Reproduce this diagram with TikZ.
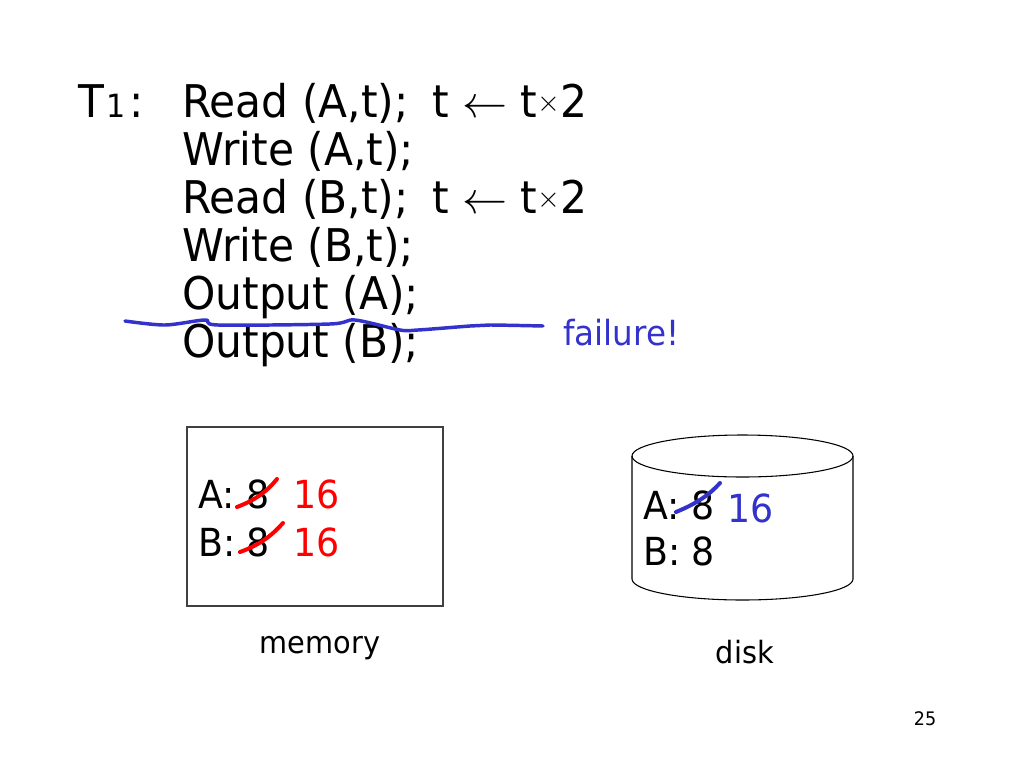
\RequirePackage{fix-cm}
\documentclass[tikz,border=0pt]{standalone}
\usepackage{fontspec}
\setmainfont{DejaVu Sans}[FakeStretch=0.94]
\usetikzlibrary{calc}
\definecolor{penblue}{RGB}{51,51,204}
\definecolor{penred}{RGB}{255,0,0}
\def\fsz#1{\fontsize{#1}{#1}\selectfont}
\def\smalltimes{\raisebox{4pt}{\fsz{22}$\times$}}
\tikzset{
	codeline/.style={anchor=base west, inner sep=0pt, font=\fsz{33.8}},
	cell/.style={anchor=base west, inner sep=0pt, font=\fsz{29}},
	caption/.style={anchor=base, inner sep=0pt, font=\fsz{23}},
	pen/.style={line width=2.6pt, line cap=round, line join=round},
	strike/.style={line width=3pt, line cap=round},
}

\begin{document}
\begin{tikzpicture}[x=0.75pt, y=-0.75pt]
		%%%%% START %%%%%
		\useasboundingbox (0, 0) rectangle (1024, 768);
		
		\node[codeline] (tname) at (78, 117) {T\kern1.5pt{\fsz{24}1}\kern3pt:};
		\node[codeline] (readA) at (182, 117) {Read (A,t);};
		\node[codeline] (writeA) at (182, 165) {Write (A,t);};
		\node[codeline] (readB) at (182, 213) {Read (B,t);};
		\node[codeline] (writeB) at (182, 261) {Write (B,t);};
		\node[codeline] (outA) at (182, 309) {Output (A);};
		\node[codeline] (outB) at (182, 357) {Output (B);};
		\node[codeline] (dblA) at (432, 117) {t $\leftarrow$ t\smalltimes 2};
		\node[codeline] (dblB) at (432, 213) {t $\leftarrow$ t\smalltimes 2};
		
		% failure mark
		\draw[pen, penblue] plot[smooth, tension=0.5] coordinates {(125, 321) (165, 325) (205, 320) (218, 325) (330, 324) (355, 320) (400, 330) (418, 330) (470, 326) (490, 325) (543, 326)};
		\node[anchor=base west, inner sep=0pt, font=\fsz{26}, text=penblue] (fail) at (563, 345) {failure!};
		
		% memory
		\draw[line width=0.9pt, black!75] (187, 427) rectangle (443, 606);
		\node[cell] (memA) at (198, 508) {A: 8};
		\node[cell, text=penred] (memAnew) at (293, 508) {16};
		\node[cell] (memB) at (198, 556) {B: 8};
		\node[cell, text=penred] (memBnew) at (293, 556) {16};
		\draw[strike, penred] (237, 507) .. controls (258, 499) and (268, 490) .. (277, 479);
		\draw[strike, penred] (240, 552) .. controls (262, 544) and (273, 534) .. (283, 523);
		\node[caption] (memlbl) at (320, 653) {memory};
		
		% disk
		\draw[line width=0.8pt] (742.5, 456) ellipse (110.5 and 21);
		\draw[line width=0.8pt] (632, 456) -- (632, 579) arc (180:0:110.5 and 21) -- (853, 456);
		\node[cell] (diskA) at (643, 519) {A: 8};
		\node[cell, text=penblue] (diskAnew) at (727, 522) {16};
		\node[cell] (diskB) at (643, 565) {B: 8};
		\draw[strike, penblue] (676, 512) .. controls (698, 503) and (710, 494) .. (720, 483);
		\node[caption] (disklbl) at (745, 663) {disk};
		
		\node[anchor=base, inner sep=0pt, font=\fsz{14}] (pagenum) at (925, 725) {25};
		%%%%% END %%%%%
\end{tikzpicture}
\end{document}
